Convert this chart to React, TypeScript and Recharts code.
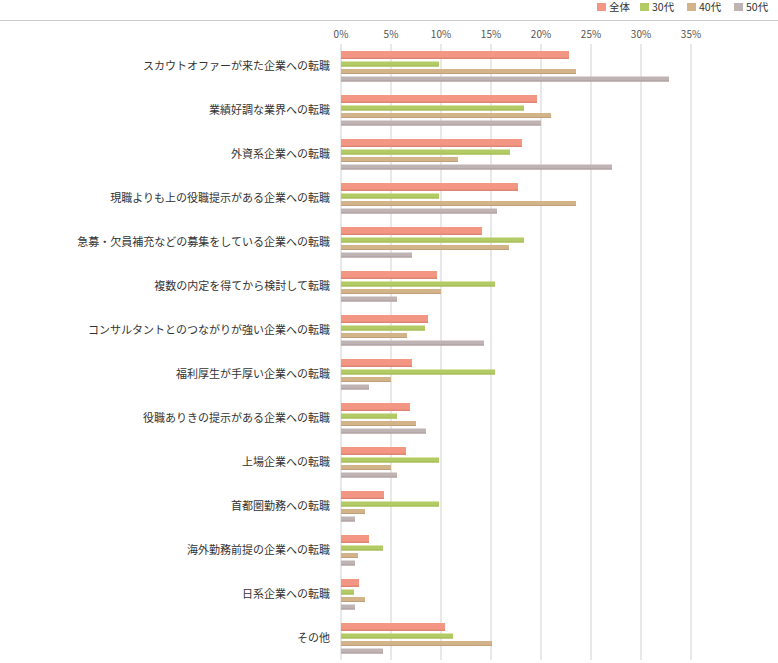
import React from 'react';
import { BarChart, Bar, XAxis, YAxis, CartesianGrid } from 'recharts';

const categories = [
  'スカウトオファーが来た企業への転職',
  '業績好調な業界への転職',
  '外資系企業への転職',
  '現職よりも上の役職提示がある企業への転職',
  '急募・欠員補充などの募集をしている企業への転職',
  '複数の内定を得てから検討して転職',
  'コンサルタントとのつながりが強い企業への転職',
  '福利厚生が手厚い企業への転職',
  '役職ありきの提示がある企業への転職',
  '上場企業への転職',
  '首都圏勤務への転職',
  '海外勤務前提の企業への転職',
  '日系企業への転職',
  'その他',
];

const all = [22.8, 19.6, 18.1, 17.7, 14.1, 9.6, 8.7, 7.1, 6.9, 6.5, 4.3, 2.8, 1.8, 10.4];
const age30 = [9.8, 18.3, 16.9, 9.8, 18.3, 15.4, 8.4, 15.4, 5.6, 9.8, 9.8, 4.2, 1.3, 11.2];
const age40 = [23.5, 21.0, 11.7, 23.5, 16.8, 10.0, 6.6, 5.0, 7.5, 5.0, 2.4, 1.7, 2.4, 15.1];
const age50 = [32.8, 20.0, 27.1, 15.6, 7.1, 5.6, 14.3, 2.8, 8.5, 5.6, 1.4, 1.4, 1.4, 4.2];

const xTicks = [0, 5, 10, 15, 20, 25, 30, 35];

const series = [
  { key: 'all', name: '全体', color: '#f39683', edge: '#de8575', size: 8 },
  { key: 'age30', name: '30代', color: '#b3cb65', edge: '#a3ba55', size: 5 },
  { key: 'age40', name: '40代', color: '#d3b38a', edge: '#c0a078', size: 5 },
  { key: 'age50', name: '50代', color: '#c0b3b3', edge: '#ab9e9e', size: 5 },
];

// legend item left edges, as in the original layout
const legendLeft = [597, 640, 687, 734];

const data = categories.map((name, i) => ({
  name,
  all: all[i],
  age30: age30[i],
  age40: age40[i],
  age50: age50[i],
}));

const FONT = '"Noto Sans CJK JP", "Noto Sans", sans-serif';

const makeShape = (color: string, edge: string) => (props: any) => {
  const { x, y, width, height } = props;
  if (!width || width <= 0) return <g />;
  const e = height > 6 ? 1.5 : 1;
  return (
    <g>
      <rect x={x} y={y} width={width} height={height} fill={color} />
      <rect x={x} y={y + height - e} width={width} height={e} fill={edge} />
    </g>
  );
};

export default function App() {
  return (
    <div style={{ position: 'absolute', left: 0, top: 0, width: 778, height: 663, background: '#fff', fontFamily: FONT }}>
      <div style={{ position: 'absolute', left: 0, top: 20, width: 778, borderTop: '1px solid #cccccc' }} />
      {series.map((s, i) => (
        <div
          key={s.key}
          style={{ position: 'absolute', left: legendLeft[i], top: 0, height: 13, display: 'flex', alignItems: 'center', fontSize: 10.5, color: '#333' }}
        >
          <span style={{ display: 'inline-block', width: 9, height: 8, background: s.color, marginRight: 3 }} />
          <span style={{ lineHeight: '13px' }}>{s.name}</span>
        </div>
      ))}
      <BarChart
        width={778}
        height={663}
        data={data}
        layout="vertical"
        margin={{ top: 24, right: 87, bottom: 3, left: 0 }}
        barGap={2.5}
        barCategoryGap={0}
      >
        <CartesianGrid horizontal={false} stroke="#d9d9d9" strokeWidth={1.2} />
        <XAxis
          type="number"
          orientation="top"
          domain={[0, 35]}
          ticks={xTicks}
          tickFormatter={(v: number) => `${v}%`}
          height={20}
          axisLine={false}
          tickLine={false}
          tickSize={0}
          tickMargin={6}
          tick={{ fontSize: 10, fill: '#555', fontFamily: FONT }}
        />
        <YAxis
          type="category"
          dataKey="name"
          width={341}
          axisLine={false}
          tickLine={false}
          tickSize={0}
          tickMargin={11}
          interval={0}
          tick={{ fontSize: 11, fill: '#333', fontFamily: FONT }}
        />
        {series.map((s) => (
          <Bar
            key={s.key}
            dataKey={s.key}
            name={s.name}
            fill={s.color}
            barSize={s.size}
            shape={makeShape(s.color, s.edge)}
            isAnimationActive={false}
          />
        ))}
      </BarChart>
    </div>
  );
}
